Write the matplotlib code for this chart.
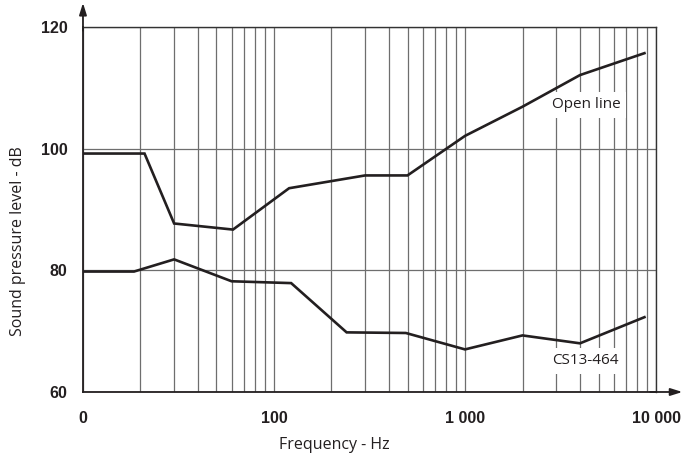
import matplotlib
matplotlib.use("Agg")
import matplotlib.pyplot as plt
from matplotlib.ticker import LogLocator, FixedLocator, NullFormatter

# values
freq_open = [10, 21, 30, 61, 120, 300, 500, 1000, 2000, 4000, 8700]
spl_open = [99.2, 99.2, 87.7, 86.7, 93.5, 95.6, 95.6, 102.1, 106.9, 112.1, 115.7]

freq_cs = [10, 18.5, 30, 60, 123, 240, 490, 1000, 2000, 4000, 8700]
spl_cs = [79.8, 79.8, 81.8, 78.2, 77.9, 69.8, 69.7, 67.0, 69.3, 68.0, 72.3]

x_ticks = [10, 100, 1000, 10000]
x_labels = ["0", "100", "1 000", "10 000"]
y_ticks = [60, 80, 100, 120]

line_col = "#231f20"
grid_col = "#6e6e6e"
label_font = ["Open Sans", "DejaVu Sans"]
tick_font = ["Liberation Sans", "DejaVu Sans"]

fig = plt.figure(figsize=(6.95, 4.61), dpi=100)
ax = fig.add_axes([0.1194, 0.1497, 0.8245, 0.7917])

ax.plot(freq_open, spl_open, color=line_col, lw=1.9, solid_joinstyle="miter", zorder=4)
ax.plot(freq_cs, spl_cs, color=line_col, lw=1.9, solid_joinstyle="miter", zorder=4)

ax.set_xscale("log")
ax.set_xlim(10, 10000)
ax.set_ylim(60, 120)

ax.xaxis.set_major_locator(FixedLocator(x_ticks))
ax.set_xticklabels(x_labels)
ax.xaxis.set_minor_locator(LogLocator(base=10, subs=range(2, 10)))
ax.xaxis.set_minor_formatter(NullFormatter())
ax.set_yticks(y_ticks)

ax.grid(True, which="both", axis="x", color=grid_col, lw=0.9)
ax.grid(True, which="major", axis="y", color=grid_col, lw=0.9)
ax.set_axisbelow(True)

ax.tick_params(which="both", length=0)
ax.tick_params(axis="x", pad=14)
ax.tick_params(axis="y", pad=11)
for lab in ax.get_xticklabels() + ax.get_yticklabels():
    lab.set_fontfamily(tick_font)
    lab.set_fontweight("bold")
    lab.set_fontsize(11.5)
    lab.set_color("#231f20")

for side in ["top", "right"]:
    ax.spines[side].set_color("#333333")
    ax.spines[side].set_linewidth(1.0)
for side in ["left", "bottom"]:
    ax.spines[side].set_color(line_col)
    ax.spines[side].set_linewidth(1.3)

# axis arrows
ax.annotate("", xy=(0, 1.066), xytext=(0, 0.99), xycoords="axes fraction",
            arrowprops=dict(arrowstyle="-|>,head_length=0.7,head_width=0.22",
                            color=line_col, lw=1.3, shrinkA=0, shrinkB=0),
            annotation_clip=False)
ax.annotate("", xy=(1.046, 0), xytext=(0.99, 0), xycoords="axes fraction",
            arrowprops=dict(arrowstyle="-|>,head_length=0.7,head_width=0.22",
                            color=line_col, lw=1.3, shrinkA=0, shrinkB=0),
            annotation_clip=False)

box = dict(boxstyle="square,pad=0.35", fc="white", ec="none")
ax.text(2850, 107.2, "Open line", family=label_font, fontsize=11, color="#231f20",
        ha="left", va="center", bbox=box, zorder=3)
ax.text(2850, 65.1, "CS13-464", family=label_font, fontsize=11, color="#231f20",
        ha="left", va="center", bbox=box, zorder=3)

fig.text(334 / 695, 1 - 445 / 461, "Frequency - Hz", family=label_font, fontsize=11.5,
         color="#231f20", ha="center", va="center")
fig.text(18 / 695, 1 - 241 / 461, "Sound pressure level - dB", family=label_font,
         fontsize=11.5, color="#231f20", ha="center", va="center", rotation=90)

fig.savefig("out.png", dpi=100)
